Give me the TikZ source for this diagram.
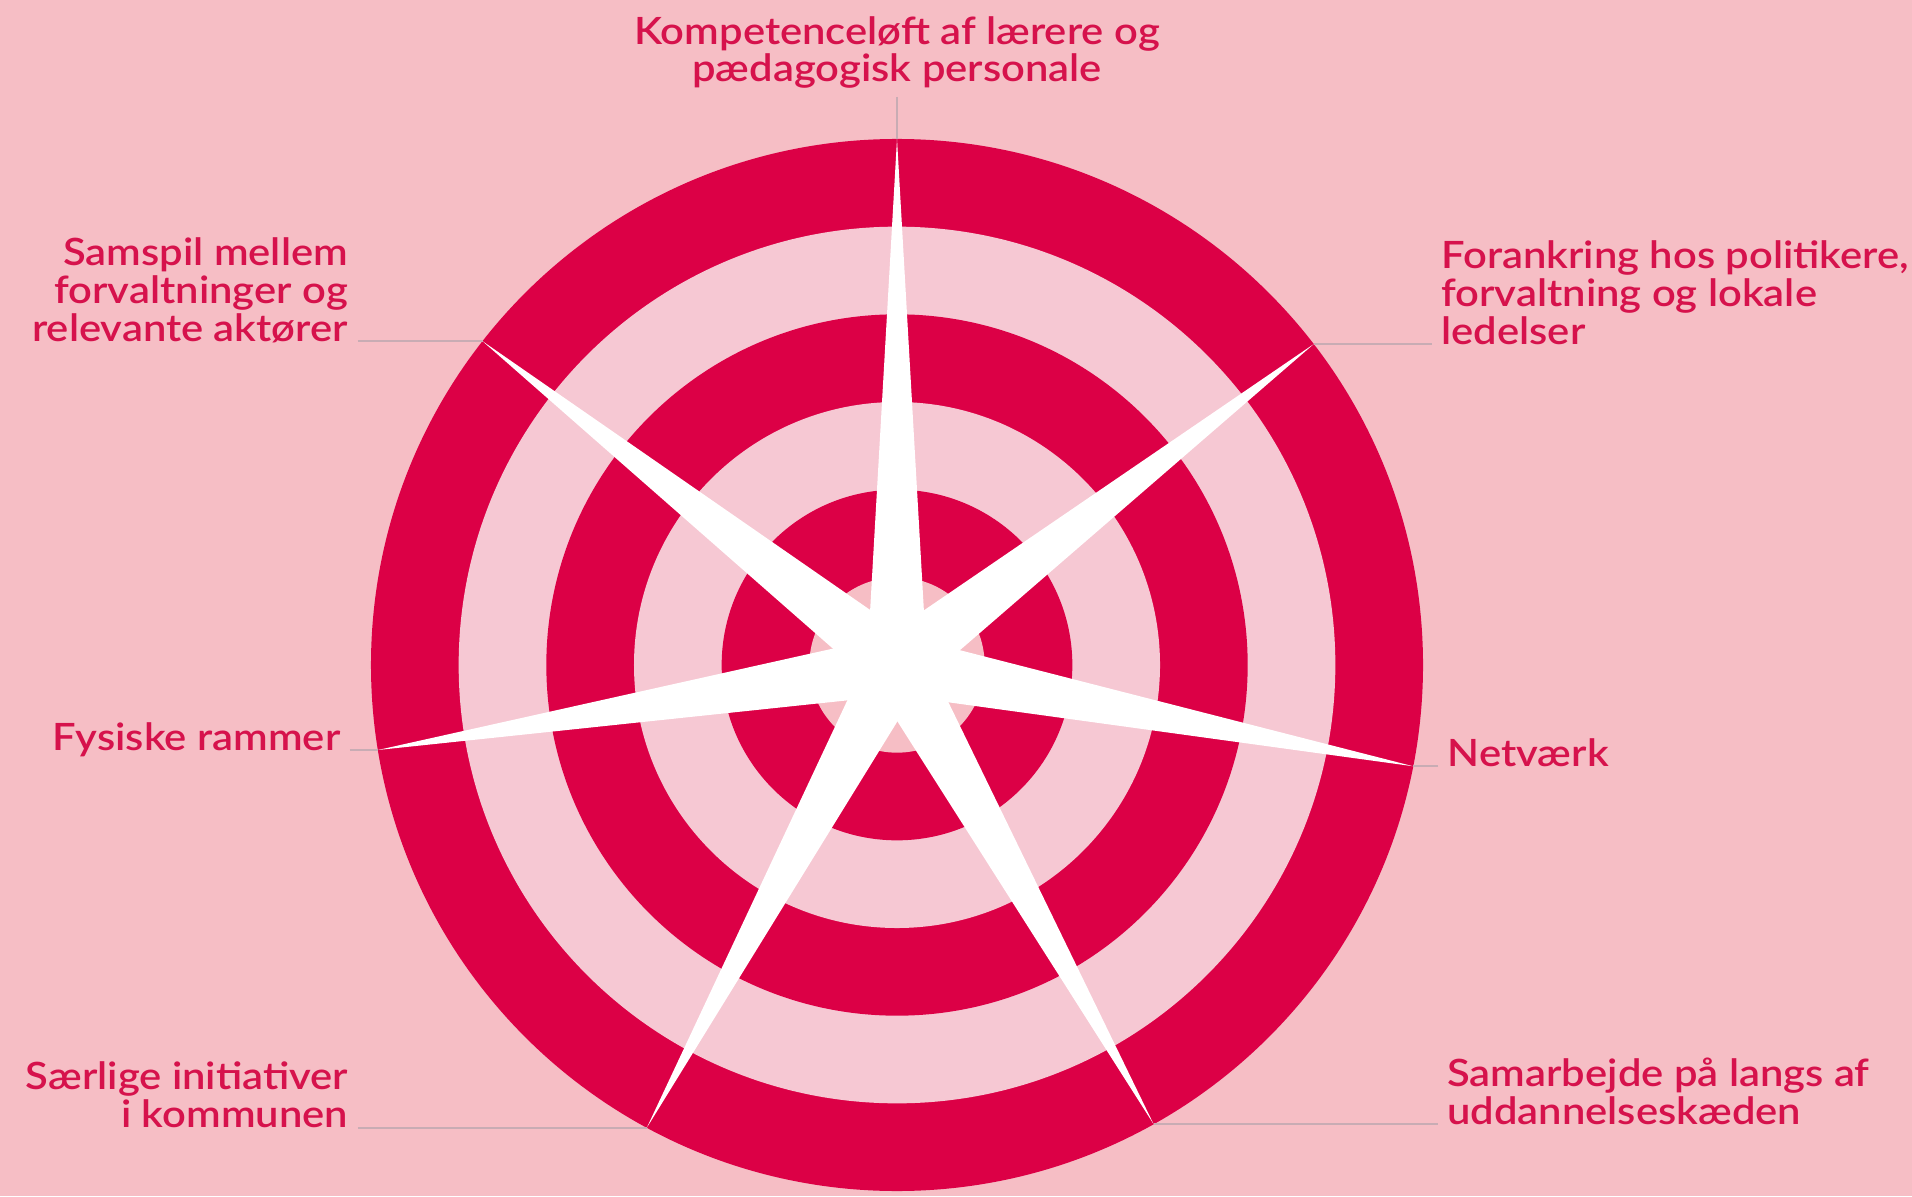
\documentclass[tikz,border=0pt]{standalone}
\usepackage{fontspec}
\usetikzlibrary{calc}
\IfFontExistsTF{Lato Semibold}{\newfontfamily\lblfont{Lato Semibold}[FakeStretch=1.11]}{%
  \IfFontExistsTF{Lato Medium}{\newfontfamily\lblfont{Lato Medium}[FakeStretch=1.11]}{%
    \newfontfamily\lblfont{Lato}[FakeStretch=1.11]}}
\definecolor{bgpink}{RGB}{246,190,197}
\definecolor{ringdark}{RGB}{220,0,70}
\definecolor{ringlight}{RGB}{246,200,211}
\definecolor{labelred}{RGB}{214,18,76}
\definecolor{leadgray}{RGB}{200,172,180}
\tikzset{
  lbl/.style={inner sep=0pt, text=labelred, font=\lblfont\fontsize{10.7}{10.8}\selectfont},
  leader/.style={draw=leadgray, line width=0.55pt}
}
\begin{document}
\begin{tikzpicture}[x=0.1mm, y=0.1mm]
  % background
  \fill[bgpink] (0,0) rectangle (1912,1196);
  \useasboundingbox (0,0) rectangle (1912,1196);
  \coordinate (c) at (897,531);
  % rings
  \foreach \k/\col in {6/ringdark,5/ringlight,4/ringdark,3/ringlight,2/ringdark,1/bgpink}
    \fill[\col] (c) circle (\k*87.67);
  % star
  \foreach \a in {90,37.6,-11.1,-60.8,-118.4,189.3,142}
    \fill[white, shift={(c)}, rotate=\a] (526,0) -- (0,30) -- (-8,0) -- (0,-30) -- cycle;
  % tips
  \path (c) ++(90:526)    coordinate (tKomp);
  \path (c) ++(37.6:526)  coordinate (tForan);
  \path (c) ++(-11.1:526) coordinate (tNetv);
  \path (c) ++(-60.8:526) coordinate (tSamarb);
  \path (c) ++(-118.4:526) coordinate (tSaerl);
  \path (c) ++(189.3:526) coordinate (tFys);
  \path (c) ++(142:526)   coordinate (tSamsp);
  % labels
  \node[lbl, align=center, anchor=base] (komp) at ($(tKomp)+(0,57)$)
    {Kompetenceløft af lærere og\\pædagogisk personale};
  \node[lbl, align=left, anchor=base west] (foran) at ($(tForan)+(127,0)$)
    {Forankring hos politikere,\\forvaltning og lokale\\ledelser};
  \node[lbl, align=left, anchor=base west] (netv) at ($(tNetv)+(34,0)$) {Netværk};
  \node[lbl, align=left, anchor=base west] (samarb) at ($(tSamarb)+(293,0)$)
    {Samarbejde på langs af\\uddannelseskæden};
  \node[lbl, align=right, anchor=base east] (saerl) at ($(tSaerl)+(-298,0)$)
    {Særlige initiativer\\i kommunen};
  \node[lbl, align=right, anchor=base east] (fys) at ($(tFys)+(-37,0)$) {Fysiske rammer};
  \node[lbl, align=right, anchor=base east] (samsp) at ($(tSamsp)+(-134,0)$)
    {Samspil mellem\\forvaltninger og\\relevante aktører};
  % leaders
  \draw[leader] ($(komp.base)+(0,-15)$) -- (tKomp);
  \draw[leader] ($(foran.base west)+(-9,0)$) -- (tForan);
  \draw[leader] ($(netv.base west)+(-9,0)$) -- (tNetv);
  \draw[leader] ($(samarb.base west)+(-9,0)$) -- (tSamarb);
  \draw[leader] ($(saerl.base east)+(9,0)$) -- (tSaerl);
  \draw[leader] ($(fys.base east)+(9,0)$) -- (tFys);
  \draw[leader] ($(samsp.base east)+(9,0)$) -- (tSamsp);
\end{tikzpicture}
\end{document}
